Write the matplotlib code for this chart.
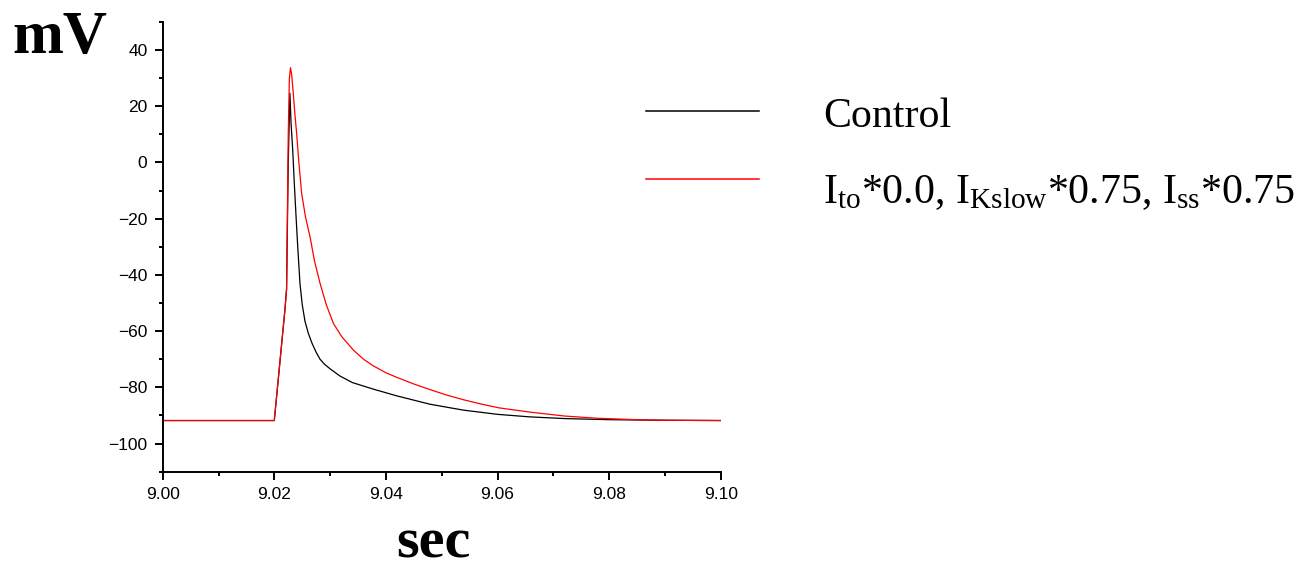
import matplotlib
matplotlib.use("Agg")
import matplotlib.pyplot as plt
from matplotlib.lines import Line2D
from matplotlib.ticker import MultipleLocator, FormatStrFormatter

# datos (tiempo en s, potencial en mV)
t_control = [9.000, 9.0200, 9.0219, 9.0222, 9.0225, 9.0228, 9.0230, 9.0233,
             9.0236, 9.0239, 9.0242, 9.0246, 9.0250, 9.0255, 9.0261, 9.0268,
             9.0275, 9.0282, 9.0290, 9.0300, 9.0318, 9.0340, 9.0377, 9.0419,
             9.0479, 9.0539, 9.0600, 9.0658, 9.0720, 9.0800, 9.0900, 9.1000]
v_control = [-91.8, -91.8, -52.5, -45.0, 0.0, 24.6, 14.0, 4.4,
             -8.0, -19.3, -30.0, -43.0, -50.5, -56.5, -60.8, -64.5,
             -67.5, -70.0, -71.8, -73.4, -76.0, -78.3, -80.6, -83.0,
             -86.0, -88.1, -89.6, -90.5, -91.1, -91.5, -91.7, -91.8]

t_mod = [9.000, 9.0200, 9.0219, 9.0222, 9.0225, 9.0227, 9.0229, 9.0231,
         9.0234, 9.0237, 9.0240, 9.0244, 9.0249, 9.0256, 9.0264, 9.0272,
         9.0282, 9.0293, 9.0306, 9.0321, 9.0342, 9.0360, 9.0377, 9.0400,
         9.0419, 9.0450, 9.0479, 9.0510, 9.0539, 9.0570, 9.0603, 9.0658,
         9.0720, 9.0780, 9.0850, 9.0900, 9.1000]
v_mod = [-91.8, -91.8, -52.5, -45.0, 10.0, 30.0, 33.7, 31.5,
         24.6, 17.0, 10.4, 0.0, -11.0, -19.5, -26.4, -35.0,
         -43.0, -50.5, -57.3, -62.0, -66.8, -70.0, -72.3, -74.8,
         -76.4, -78.8, -80.8, -82.8, -84.4, -85.9, -87.3, -88.8,
         -90.2, -91.0, -91.5, -91.7, -91.8]

etiqueta_control = "Control"
etiqueta_mod = r"$\mathregular{I_{to}}$*0.0, $\mathregular{I_{Kslow}}$*0.75, $\mathregular{I_{ss}}$*0.75"

plt.rcParams['font.family'] = ['Liberation Sans', 'DejaVu Sans']

W, H = 1303, 567
fig = plt.figure(figsize=(W / 100, H / 100), dpi=100)
ax = fig.add_axes([162.7 / W, 1 - 471.7 / H, (720.7 - 162.7) / W, (471.7 - 21.9) / H])

ax.plot(t_control, v_control, color='black', lw=0.9)
ax.plot(t_mod, v_mod, color='red', lw=0.9)

ax.set_xlim(9.0, 9.1)
ax.set_ylim(-110, 50)
ax.xaxis.set_major_locator(MultipleLocator(0.02))
ax.xaxis.set_minor_locator(MultipleLocator(0.01))
ax.xaxis.set_major_formatter(FormatStrFormatter('%.2f'))
ax.yaxis.set_major_locator(MultipleLocator(20))
ax.yaxis.set_minor_locator(MultipleLocator(10))
ax.set_yticks([-100, -80, -60, -40, -20, 0, 20, 40])

for lado in ['top', 'right']:
    ax.spines[lado].set_visible(False)
for lado in ['left', 'bottom']:
    ax.spines[lado].set_linewidth(1.4)
ax.tick_params(which='major', direction='out', length=6, width=1.4, labelsize=12.5, pad=5)
ax.tick_params(which='minor', direction='out', length=3, width=1.4)

# titulos de los ejes
fig.text(12 / W, 1 - 53 / H, "mV", fontsize=44, fontweight='bold',
         family='Liberation Serif', ha='left', va='baseline')
fig.text(433 / W, 1 - 557 / H, "sec", fontsize=42, fontweight='bold',
         family='Liberation Serif', ha='center', va='baseline')

# leyenda
fig.add_artist(Line2D([646 / W, 759 / W], [1 - 111 / H, 1 - 111 / H], color='black', lw=1.1,
                      transform=fig.transFigure))
fig.add_artist(Line2D([646 / W, 759 / W], [1 - 179.3 / H, 1 - 179.3 / H], color='red', lw=1.1,
                      transform=fig.transFigure))
fig.text(823 / W, 1 - 126.7 / H, etiqueta_control, fontsize=30.2,
         family='Liberation Serif', ha='left', va='baseline')
fig.text(823 / W, 1 - 203.3 / H, etiqueta_mod, fontsize=30.2,
         family='Liberation Serif', ha='left', va='baseline')

fig.savefig("out.png", dpi=100)
